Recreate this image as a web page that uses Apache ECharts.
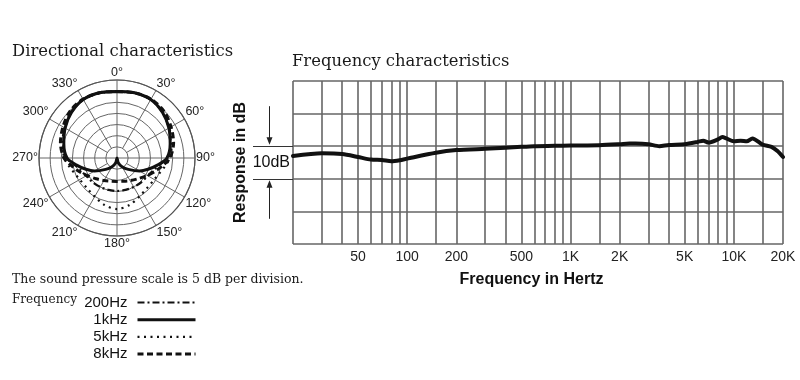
<!DOCTYPE html>
<html><head><meta charset="utf-8">
<script src="https://cdn.jsdelivr.net/npm/echarts@6/dist/echarts.min.js"></script>
<style>html,body{margin:0;padding:0;background:#fff}#c{width:800px;height:380px}</style>
</head><body><div id="c"></div>
<script>
// ---------- Directional characteristics (dB, outer ring = 0 dB, 5 dB per ring) ----------
const ANGLES = [0,15,30,45,60,75,90,100,110,120,135,150,165,180,195,210,225,240,250,260,270,285,300,315,330,345,360];
const DB_200HZ = [-5.2,-4.7,-4.7,-6.1,-8.1,-10.1,-12.3,-16.0,-18.0,-19.0,-19.6,-20.0,-20.2,-20.2,-20.2,-20.0,-19.6,-19.0,-18.0,-16.0,-12.3,-10.1,-8.1,-6.1,-4.7,-4.7,-5.2];
const DB_1KHZ  = [-5.2,-4.7,-4.7,-6.1,-8.1,-10.3,-12.6,-16.6,-20.2,-23.3,-27.8,-30.5,-32.8,-35,-32.8,-30.5,-27.8,-23.3,-20.2,-16.6,-12.6,-10.3,-8.1,-6.1,-4.7,-4.7,-5.2];
const DB_5KHZ  = [-5.2,-4.9,-4.7,-5.8,-7.9,-9.6,-11.4,-13.2,-14.8,-15.7,-15.9,-15.0,-13.2,-12.1,-13.2,-15.0,-15.9,-15.7,-14.8,-13.2,-11.4,-9.6,-7.9,-5.8,-4.7,-4.9,-5.2];
const DB_8KHZ  = [-5.2,-4.7,-4.5,-5.2,-7.0,-8.7,-11.2,-14.4,-17.1,-19.3,-21.8,-23.3,-24.2,-24.5,-24.2,-23.3,-21.8,-19.3,-17.1,-14.4,-11.2,-8.7,-7.0,-5.2,-4.5,-4.7,-5.2];
const POLAR_NAMES = ['200Hz','1kHz','5kHz','8kHz'];
const SPOKE_ANGLES = [30,60,120,150,210,240,300,330];
const CROSS_ANGLES = [0,90];

// ---------- Frequency characteristics ----------
const FREQ = [20,30,40,50,60,70,80,90,100,150,200,300,400,500,600,800,1000,1500,2000,2300,2500,3000,3500,4000,5000,6000,6500,7000,8000,8500,9000,10000,11000,12000,13000,15000,17000,18500,20000];
const RESP = [27.0,27.8,27.6,26.7,25.9,25.8,25.4,25.7,26.2,28.0,28.8,29.2,29.5,29.8,30.0,30.1,30.2,30.3,30.6,30.8,30.8,30.6,30.0,30.4,30.6,31.3,31.7,31.1,32.1,32.8,32.4,31.5,31.7,31.5,32.4,30.5,29.8,28.5,26.7];
const GRID_FREQS = [20,30,40,50,60,70,80,90,100,150,200,300,400,500,600,700,800,900,1000,1500,2000,3000,4000,5000,6000,7000,8000,9000,10000,15000,20000];
const LABEL_FREQS = [50,100,200,500,1000,2000,5000,10000,20000];
const LABEL_TEXT = ['50','100','200','500','1K','2K','5K','10K','20K'];
const DB_TICKS = [20,30];
const DB_SPAN_LABEL = [25];

const SANS = 'Liberation Sans';
const SERIF = 'DejaVu Serif';
const GRID_C = '#666';
const R_MIN = -35, R_INNER = -30, R_MAX = 0;

const chart = echarts.init(document.getElementById('c'), null, {renderer:'canvas'});
const pair = (arr) => arr.map((v,i) => [v, ANGLES[i]]);
const LOG_MIN = Math.log10(20), LOG_MAX = Math.log10(20000);

const gridSeries = [];
SPOKE_ANGLES.forEach(a => gridSeries.push({type:'line', coordinateSystem:'polar', data:[[R_INNER,a],[R_MAX,a]],
  symbol:'none', silent:true, z:1, lineStyle:{color:GRID_C, width:1}}));
CROSS_ANGLES.forEach(a => gridSeries.push({type:'line', coordinateSystem:'polar', data:[[R_MAX,a],[R_MIN,a],[R_MAX,a+180]],
  symbol:'none', silent:true, z:1, lineStyle:{color:GRID_C, width:1}}));

const option = {
  animation:false,
  backgroundColor:'#fff',
  textStyle:{fontFamily:SANS},
  title:[
    {text:'Directional characteristics', left:12, top:44, padding:0, textStyle:{fontFamily:SERIF, fontSize:16.4, fontWeight:'normal', color:'#1a1a1a'}},
    {text:'Frequency characteristics', left:292, top:54, padding:0, textStyle:{fontFamily:SERIF, fontSize:16.4, fontWeight:'normal', color:'#1a1a1a'}},
    {text:'The sound pressure scale is 5 dB per division.', left:12, top:273, padding:0, textStyle:{fontFamily:SERIF, fontSize:12.5, fontWeight:'normal', color:'#1a1a1a'}},
    {text:'Frequency', left:12, top:294, padding:0, textStyle:{fontFamily:SERIF, fontSize:12, fontWeight:'normal', color:'#1a1a1a'}}
  ],
  legend:{
    data:POLAR_NAMES, orient:'vertical', align:'right', right:603, top:295,
    itemWidth:58, itemHeight:15, itemGap:2.2, padding:0, selectedMode:false,
    textStyle:{fontSize:15, color:'#111', fontFamily:SANS, padding:[0,5,0,0]},
    itemStyle:{opacity:0}, lineStyle:{width:'inherit'}
  },
  polar:{center:[117,158], radius:78},
  angleAxis:{
    type:'value', min:0, max:360, interval:30, startAngle:90, clockwise:true,
    axisLine:{lineStyle:{color:'#555', width:1.2}},
    axisTick:{show:false},
    splitLine:{show:false},
    axisLabel:{margin:1, fontSize:12.5, color:'#222', fontFamily:SANS, formatter:(v)=> v===360 ? '' : v+'°'}
  },
  radiusAxis:{
    type:'value', min:R_MIN, max:R_MAX, interval:5,
    axisLine:{show:false}, axisTick:{show:false}, axisLabel:{show:false},
    splitLine:{show:true, lineStyle:{color:GRID_C, width:1}}
  },
  grid:{left:293, right:17, top:81, bottom:136, outerBoundsMode:'none', containLabel:false},
  xAxis:[
    {type:'log', logBase:10, min:20, max:20000, gridIndex:0, position:'top', show:false},
    {type:'value', min:LOG_MIN, max:LOG_MAX, gridIndex:0, position:'bottom',
     axisLine:{show:false},
     axisTick:{show:false, customValues:GRID_FREQS.map(Math.log10)},
     splitLine:{show:true, lineStyle:{color:GRID_C, width:1.6}},
     axisLabel:{customValues:LABEL_FREQS.map(Math.log10), margin:6, fontSize:14, color:'#222', fontFamily:SANS,
       formatter:(v)=>{let best=0,bd=1e9;LABEL_FREQS.forEach((f,i)=>{const d=Math.abs(Math.log10(f)-v);if(d<bd){bd=d;best=i;}});return LABEL_TEXT[best];}},
     name:'Frequency in Hertz', nameLocation:'middle', nameGap:28,
     nameTextStyle:{fontSize:16, fontWeight:'bold', color:'#111', fontFamily:SANS, padding:[0,13,0,0]}
    }
  ],
  yAxis:[
    {type:'value', min:0, max:50, interval:10, gridIndex:0, position:'left',
     axisLine:{show:false}, axisTick:{show:false}, axisLabel:{show:false},
     splitLine:{show:true, lineStyle:{color:GRID_C, width:1.6}}},
    {type:'value', min:0, max:50, interval:10, gridIndex:0, position:'left',
     axisLine:{show:false}, splitLine:{show:false},
     axisTick:{show:true, customValues:DB_TICKS, length:40, lineStyle:{color:'#333', width:1}},
     axisLabel:{customValues:DB_SPAN_LABEL, formatter:()=> '10dB', margin:3, fontSize:16, color:'#111', fontFamily:SANS},
     name:'Response in dB', nameLocation:'middle', nameGap:44, nameRotate:90, nameMoveOverlap:false,
     nameTextStyle:{fontSize:16, fontWeight:'bold', color:'#111', fontFamily:SANS}}
  ],
  series:gridSeries.concat([
    {name:'200Hz', type:'line', coordinateSystem:'polar', data:pair(DB_200HZ), symbol:'none', smooth:0.3, silent:true, z:3,
     lineStyle:{color:'#111', width:2.2, type:[7,3,2,3]}},
    {name:'1kHz', type:'line', coordinateSystem:'polar', data:pair(DB_1KHZ), symbol:'none', smooth:0.3, silent:true, z:3,
     lineStyle:{color:'#111', width:3, type:'solid'}},
    {name:'5kHz', type:'line', coordinateSystem:'polar', data:pair(DB_5KHZ), symbol:'none', smooth:0.3, silent:true, z:3,
     lineStyle:{color:'#111', width:2.2, type:[2,4.5]}},
    {name:'8kHz', type:'line', coordinateSystem:'polar', data:pair(DB_8KHZ), symbol:'none', smooth:0.3, silent:true, z:3,
     lineStyle:{color:'#111', width:3, type:[6,3.5]}},
    {name:'Response', type:'line', xAxisIndex:0, yAxisIndex:0, data:FREQ.map((f,i)=>[f,RESP[i]]), symbol:'none', smooth:0.25, silent:true,
     lineStyle:{color:'#111', width:4, join:'round', cap:'round'}}
  ])
};
chart.setOption(option);

// "10dB" span arrows, positioned from the axis scales
const y30 = chart.convertToPixel({yAxisIndex:1}, DB_TICKS[1]);
const y20 = chart.convertToPixel({yAxisIndex:1}, DB_TICKS[0]);
const x0 = chart.convertToPixel({xAxisIndex:1}, LOG_MIN);
const ax = x0 - 23.5;
chart.setOption({graphic:[
  {type:'line', shape:{x1:ax, y1:y30-40, x2:ax, y2:y30-8}, style:{stroke:'#222', lineWidth:1}},
  {type:'polygon', shape:{points:[[ax-3,y30-9],[ax+3,y30-9],[ax,y30-1.5]]}, style:{fill:'#222'}},
  {type:'line', shape:{x1:ax, y1:y20+8, x2:ax, y2:y20+40}, style:{stroke:'#222', lineWidth:1}},
  {type:'polygon', shape:{points:[[ax-3,y20+9],[ax+3,y20+9],[ax,y20+1.5]]}, style:{fill:'#222'}}
]});
</script></body></html>
